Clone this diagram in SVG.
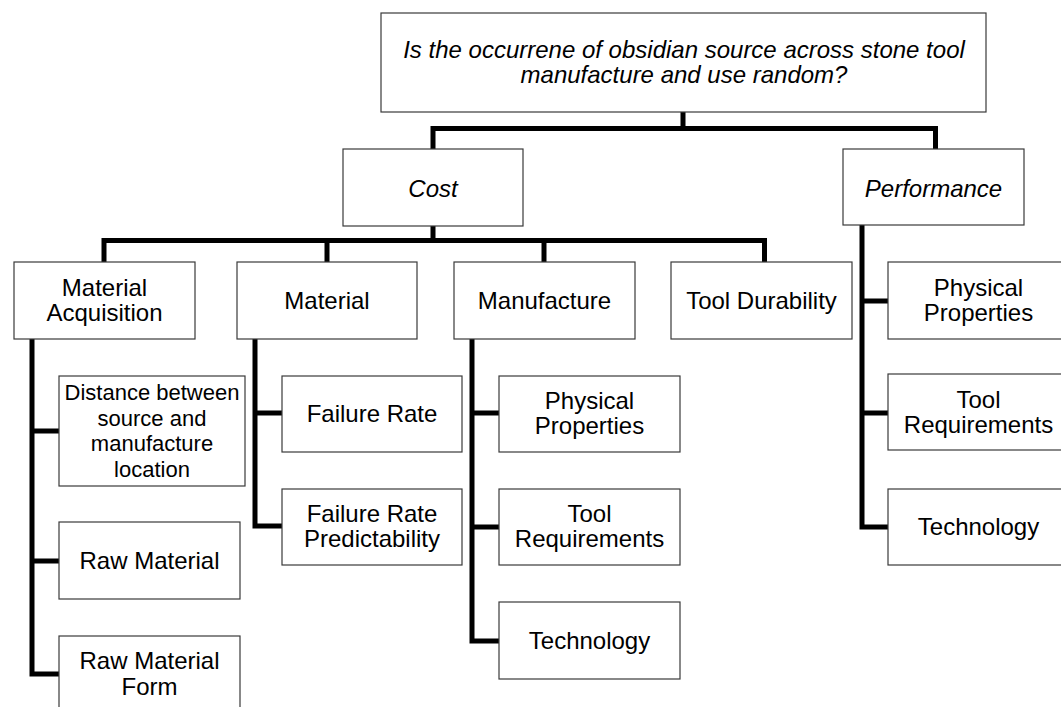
<svg xmlns="http://www.w3.org/2000/svg" width="1061" height="707" viewBox="0 0 1061 707">
<style>
.bg{fill:#ffffff}
.box{fill:#ffffff;stroke:#3a3a3a;stroke-width:1.2}
.t{font-family:"Liberation Sans",Arial,sans-serif;font-size:24px;fill:#000;text-anchor:middle}
.it{font-style:italic}
.sm{font-size:22px}
.c{fill:none;stroke:#000;stroke-width:5;stroke-linejoin:miter;stroke-linecap:butt}
</style>
<rect class="bg" x="0" y="0" width="1061" height="707"/>
<g id="connectors">
<path class="c" d="M683 112V131M433 149V128.5H935.5V149"/>
<path class="c" d="M433 226V243M104 262V240.5H764.5V262M327 243V262M544 243V262"/>
<path class="c" d="M32 339V674H59M32 431H59M32 561H59"/>
<path class="c" d="M255 339V526H282M255 413H282"/>
<path class="c" d="M472 339V641H499M472 413H499M472 527H499"/>
<path class="c" d="M862 225V527H888M862 301H888M862 413H888"/>
</g>
<g id="question">
<rect class="box" x="381" y="13" width="605" height="99"/>
<text class="t it" x="684" y="58">Is the occurrene of obsidian source across stone tool</text>
<text class="t it" x="684" y="83">manufacture and use random?</text>
</g>
<g id="cost">
<rect class="box" x="343" y="149" width="180" height="77"/>
<text class="t it" x="433" y="197">Cost</text>
</g>
<g id="performance">
<rect class="box" x="843" y="149" width="181" height="76"/>
<text class="t it" x="933.5" y="197">Performance</text>
</g>
<g id="material-acquisition">
<rect class="box" x="14" y="262" width="181" height="77"/>
<text class="t" x="104.5" y="296">Material</text>
<text class="t" x="104.5" y="321">Acquisition</text>
</g>
<g id="material">
<rect class="box" x="237" y="262" width="180" height="77"/>
<text class="t" x="327" y="309">Material</text>
</g>
<g id="manufacture">
<rect class="box" x="454" y="262" width="181" height="77"/>
<text class="t" x="544.5" y="309">Manufacture</text>
</g>
<g id="tool-durability">
<rect class="box" x="671" y="262" width="181" height="77"/>
<text class="t" x="761.5" y="309">Tool Durability</text>
</g>
<g id="distance">
<rect class="box" x="59" y="376" width="186" height="110"/>
<text class="t sm" x="152" y="400">Distance between</text>
<text class="t sm" x="152" y="425.5">source and</text>
<text class="t sm" x="152" y="451">manufacture</text>
<text class="t sm" x="152" y="476.5">location</text>
</g>
<g id="raw-material">
<rect class="box" x="59" y="522" width="181" height="77"/>
<text class="t" x="149.5" y="569">Raw Material</text>
</g>
<g id="raw-material-form">
<rect class="box" x="59" y="636" width="181" height="77"/>
<text class="t" x="149.5" y="669">Raw Material</text>
<text class="t" x="149.5" y="695">Form</text>
</g>
<g id="failure-rate">
<rect class="box" x="282" y="376" width="180" height="76"/>
<text class="t" x="372" y="422">Failure Rate</text>
</g>
<g id="failure-rate-predictability">
<rect class="box" x="282" y="489" width="180" height="76"/>
<text class="t" x="372" y="522">Failure Rate</text>
<text class="t" x="372" y="547">Predictability</text>
</g>
<g id="manuf-physical-properties">
<rect class="box" x="499" y="376" width="181" height="76"/>
<text class="t" x="589.5" y="409">Physical</text>
<text class="t" x="589.5" y="434">Properties</text>
</g>
<g id="manuf-tool-requirements">
<rect class="box" x="499" y="489" width="181" height="76"/>
<text class="t" x="589.5" y="522">Tool</text>
<text class="t" x="589.5" y="547">Requirements</text>
</g>
<g id="manuf-technology">
<rect class="box" x="499" y="602" width="181" height="77"/>
<text class="t" x="589.5" y="649">Technology</text>
</g>
<g id="perf-physical-properties">
<rect class="box" x="888" y="262" width="181" height="77"/>
<text class="t" x="978.5" y="296">Physical</text>
<text class="t" x="978.5" y="321">Properties</text>
</g>
<g id="perf-tool-requirements">
<rect class="box" x="888" y="374" width="181" height="76"/>
<text class="t" x="978.5" y="408">Tool</text>
<text class="t" x="978.5" y="433">Requirements</text>
</g>
<g id="perf-technology">
<rect class="box" x="888" y="489" width="181" height="76"/>
<text class="t" x="978.5" y="535">Technology</text>
</g>
</svg>
